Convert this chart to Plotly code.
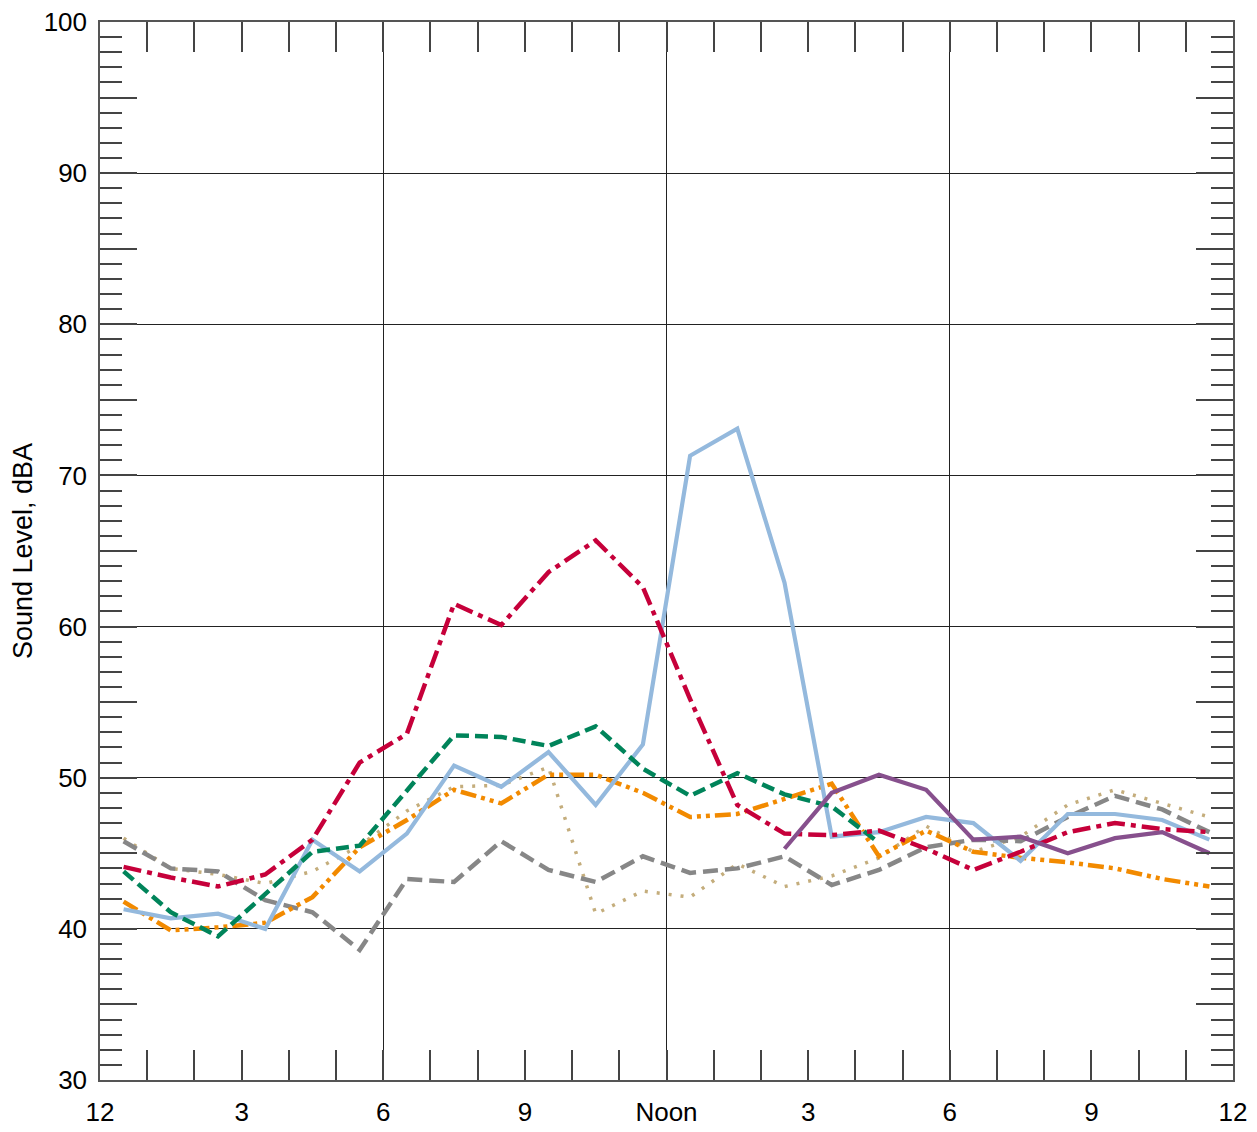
import plotly.graph_objects as go

hours = [h + 0.5 for h in range(24)]
tick_vals = [0, 3, 6, 9, 12, 15, 18, 21, 24]
tick_text = ["12", "3", "6", "9", "Noon", "3", "6", "9", "12"]

red = [44.1, 43.4, 42.8, 43.6, 45.9, 51.0, 52.9, 61.5, 60.1, 63.6, 65.7, 62.6,
       55.2, 48.2, 46.3, 46.2, 46.5, 45.3, 43.9, 45.1, 46.4, 47.0, 46.6, 46.4]
green = [43.8, 41.1, 39.5, 42.3, 45.1, 45.5, 49.2, 52.8, 52.7, 52.1, 53.4, 50.6,
         48.8, 50.3, 48.9, 48.1, 45.7]
blue = [41.3, 40.7, 41.0, 40.0, 45.9, 43.8, 46.3, 50.8, 49.4, 51.7, 48.2, 52.2,
        71.3, 73.1, 62.9, 46.1, 46.4, 47.4, 47.0, 44.5, 47.6, 47.6, 47.2, 45.9]
orange = [41.8, 39.9, 40.1, 40.4, 42.1, 45.4, 47.2, 49.2, 48.3, 50.2, 50.2, 49.0,
          47.4, 47.6, 48.6, 49.6, 44.8, 46.5, 45.1, 44.7, 44.4, 44.0, 43.3, 42.8]
tan = [46.0, 44.0, 43.6, 43.0, 43.8, 45.5, 47.8, 49.4, 49.5, 50.7, 41.0, 42.5,
       42.1, 44.3, 42.8, 43.5, 44.7, 46.8, 45.1, 46.1, 48.2, 49.2, 48.3, 47.4]
gray = [45.8, 44.0, 43.8, 41.9, 41.1, 38.6, 43.3, 43.1, 45.8, 43.9, 43.1, 44.8,
        43.7, 44.0, 44.8, 42.9, 43.9, 45.4, 45.9, 45.8, 47.4, 48.8, 47.9, 46.4]
purple = [45.3, 49.0, 50.2, 49.2, 45.9, 46.1, 45.0, 46.0, 46.4, 45.0]
purple_hours = hours[14:]

series = [
    ("tan", hours, tan, "#C4AD7C", 3.5, "3px,9px"),
    ("gray", hours, gray, "#878787", 4.5, "15px,7px"),
    ("orange", hours, orange, "#F28A00", 4.5, "16px,5px,4px,5px,4px,5px"),
    ("blue", hours, blue, "#94B9DD", 4.2, "solid"),
    ("green", hours[:len(green)], green, "#00845A", 4.5, "13px,6px"),
    ("red", hours, red, "#C6003A", 4.5, "18px,6px,5px,6px"),
    ("purple", purple_hours, purple, "#87508D", 4.2, "solid"),
]

fig = go.Figure()
for name, xs, ys, color, w, dash in series:
    fig.add_trace(go.Scatter(x=xs, y=ys, mode="lines", name=name,
                             line=dict(color=color, width=w, dash=dash),
                             showlegend=False, hoverinfo="skip"))
# empty trace to host the overlay axes
fig.add_trace(go.Scatter(x=[], y=[], xaxis="x2", yaxis="y2", showlegend=False))

font = dict(family="Liberation Sans, Arial, sans-serif", size=26, color="#000")
title_font = dict(family="Liberation Sans, Arial, sans-serif", size=27, color="#000")

fig.update_layout(
    width=1249, height=1124,
    margin=dict(l=92, r=24, t=14, b=52),
    paper_bgcolor="white", plot_bgcolor="white",
    font=font,
    xaxis=dict(range=[0, 24], tickvals=tick_vals, ticktext=tick_text,
               showgrid=False, zeroline=False, automargin=False,
               ticklabeloverflow="allow",
               ticks="inside", ticklen=30, tickcolor="#444", tickwidth=1.5,
               minor=dict(dtick=1, tick0=0, ticks="inside", ticklen=30,
                          tickcolor="#444", tickwidth=1.5, showgrid=False),
               showline=True, linecolor="#555", linewidth=1.5, mirror="ticks",
               ticklabelstandoff=8, tickfont=font),
    yaxis=dict(range=[30, 100], dtick=10, tick0=0, automargin=False,
               ticklabeloverflow="allow",
               showgrid=True, gridcolor="#222", gridwidth=1, zeroline=False,
               ticks="inside", ticklen=37, tickcolor="#444", tickwidth=1.5,
               minor=dict(dtick=1, tick0=0, ticks="inside", ticklen=22,
                          tickcolor="#444", tickwidth=1.5, showgrid=False),
               showline=True, linecolor="#555", linewidth=1.5, mirror="ticks",
               ticklabelstandoff=6, tickfont=font,
               title=dict(text="Sound Level, dBA", font=title_font, standoff=12)),
    xaxis2=dict(range=[0, 24], overlaying="x", anchor="y2", dtick=6, tick0=0,
                automargin=False,
                showgrid=True, gridcolor="#222", gridwidth=1, zeroline=False,
                showticklabels=False, ticks=""),
    yaxis2=dict(range=[30, 100], overlaying="y", anchor="x2", dtick=5, tick0=0,
                automargin=False,
                showgrid=False, zeroline=False, showticklabels=False,
                ticks="inside", ticklen=37, tickcolor="#444", tickwidth=1.5,
                showline=False, mirror="ticks", side="left"),
)

fig.write_html("out.html")
